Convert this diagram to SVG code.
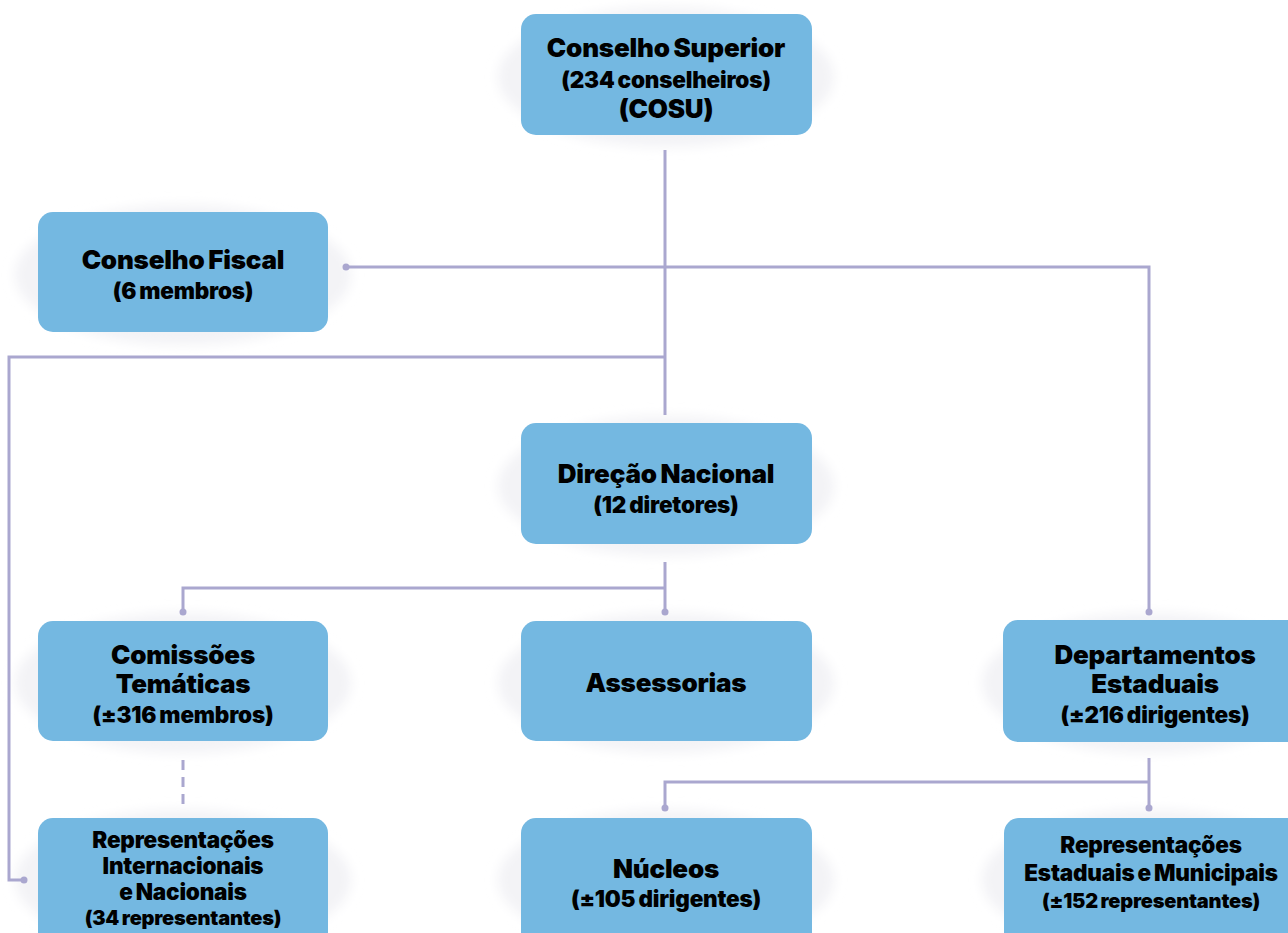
<svg xmlns="http://www.w3.org/2000/svg" width="1288" height="933" viewBox="0 0 1288 933">
<defs>
<style>
.box{fill:#74b8e1}
.sh{fill:#f3f3f6}
.ln{fill:none;stroke:#aaa7cf;stroke-width:3}
.dot{fill:#aaa7cf}
text{font-family:Inter,"Liberation Sans",Arial,sans-serif;font-weight:900;fill:#000;text-anchor:middle;letter-spacing:-0.2px;word-spacing:-1.2px}
.t{font-size:26px}
.s{font-size:22.5px}
.r{font-size:22.5px}
.x{font-size:20px}
</style>
<filter id="blur" x="-20%" y="-40%" width="140%" height="180%"><feGaussianBlur stdDeviation="6"/></filter>
</defs>
<rect width="1288" height="933" fill="#fff"/>
<g id="shadows" filter="url(#blur)">
<ellipse class="sh" cx="666" cy="77" rx="168" ry="70"/>
<ellipse class="sh" cx="183" cy="275" rx="168" ry="70"/>
<ellipse class="sh" cx="666" cy="486" rx="168" ry="70"/>
<ellipse class="sh" cx="183" cy="683" rx="168" ry="70"/>
<ellipse class="sh" cx="666" cy="683" rx="168" ry="70"/>
<ellipse class="sh" cx="1150" cy="683" rx="168" ry="70"/>
<ellipse class="sh" cx="183" cy="880" rx="168" ry="70"/>
<ellipse class="sh" cx="666" cy="880" rx="168" ry="70"/>
<ellipse class="sh" cx="1150" cy="880" rx="168" ry="70"/>
</g>
<g id="connectors">
<path class="ln" d="M665 150 V415"/>
<path class="ln" d="M346 267 H1149 V612"/>
<path class="ln" d="M665 357 H9 V880 H24"/>
<path class="ln" d="M665 562 V612"/>
<path class="ln" d="M665 588 H183 V612"/>
<path class="ln" d="M183 760 V808" stroke-dasharray="10,7"/>
<path class="ln" d="M1149 758 V808"/>
<path class="ln" d="M1149 782 H665 V808"/>
<circle class="dot" cx="346" cy="267" r="3.5"/>
<circle class="dot" cx="1149" cy="612" r="3.5"/>
<circle class="dot" cx="24" cy="880" r="3.5"/>
<circle class="dot" cx="665" cy="612" r="3.5"/>
<circle class="dot" cx="183" cy="612" r="3.5"/>
<circle class="dot" cx="1149" cy="808" r="3.5"/>
<circle class="dot" cx="665" cy="808" r="3.5"/>
</g>
<g id="conselho-superior">
<rect class="box" x="521" y="14" width="291" height="121" rx="15"/>
<text class="t" x="666" y="57">Conselho Superior</text>
<text class="r" x="666" y="88">(234 conselheiros)</text>
<text class="t" x="666" y="118">(COSU)</text>
</g>
<g id="conselho-fiscal">
<rect class="box" x="38" y="212" width="290" height="120" rx="15"/>
<text class="t" x="183" y="269">Conselho Fiscal</text>
<text class="s" x="183" y="299">(6 membros)</text>
</g>
<g id="direcao-nacional">
<rect class="box" x="521" y="423" width="291" height="121" rx="15"/>
<text class="t" x="666" y="483">Direção Nacional</text>
<text class="s" x="666" y="513">(12 diretores)</text>
</g>
<g id="comissoes">
<rect class="box" x="38" y="621" width="290" height="120" rx="15"/>
<text class="t" x="183" y="664">Comissões</text>
<text class="t" x="183" y="693">Temáticas</text>
<text class="r" x="183" y="723">(±316 membros)</text>
</g>
<g id="assessorias">
<rect class="box" x="521" y="621" width="291" height="120" rx="15"/>
<text class="t" x="666" y="692">Assessorias</text>
</g>
<g id="departamentos">
<rect class="box" x="1003" y="620" width="300" height="122" rx="15"/>
<text class="t" x="1155" y="664">Departamentos</text>
<text class="t" x="1155" y="693">Estaduais</text>
<text class="r" x="1155" y="723">(±216 dirigentes)</text>
</g>
<g id="representacoes-internacionais">
<rect class="box" x="38" y="818" width="290" height="130" rx="15"/>
<text class="r" x="183" y="848">Representações</text>
<text class="r" x="183" y="874">Internacionais</text>
<text class="r" x="183" y="900">e Nacionais</text>
<text class="x" x="183" y="925">(34 representantes)</text>
</g>
<g id="nucleos">
<rect class="box" x="521" y="818" width="291" height="130" rx="15"/>
<text class="t" x="666" y="878">Núcleos</text>
<text class="s" x="666" y="907">(±105 dirigentes)</text>
</g>
<g id="representacoes-estaduais">
<rect class="box" x="1004" y="818" width="300" height="130" rx="15"/>
<text class="r" x="1151" y="853">Representações</text>
<text class="r" x="1151" y="881">Estaduais e Municipais</text>
<text class="x" x="1151" y="908">(±152 representantes)</text>
</g>
</svg>
